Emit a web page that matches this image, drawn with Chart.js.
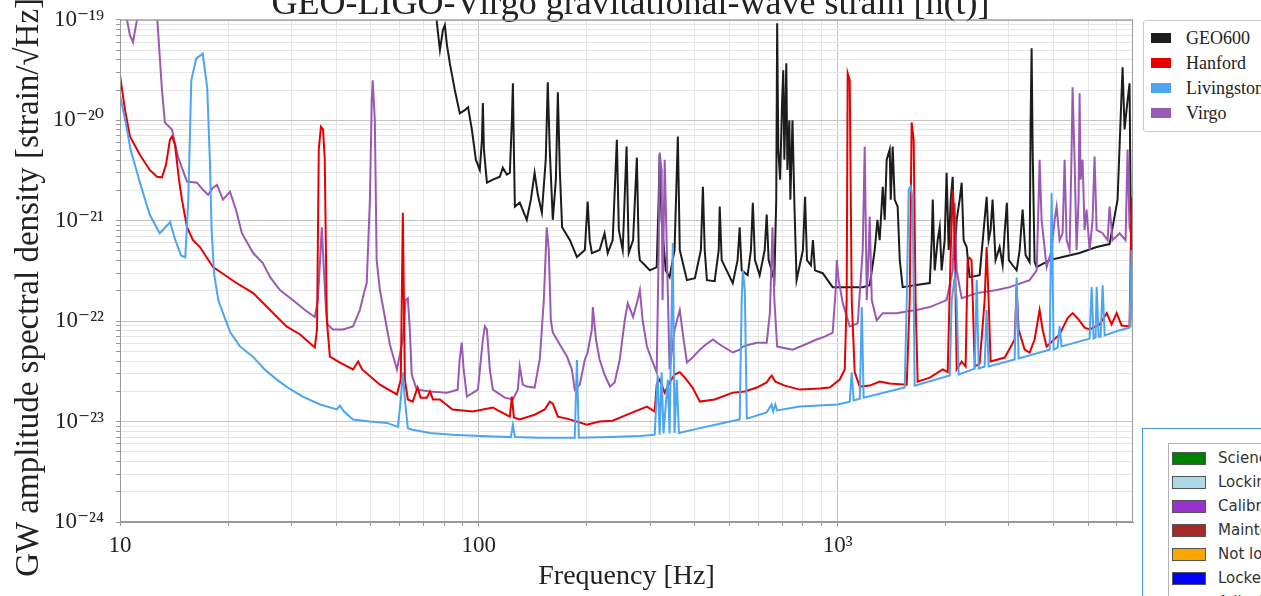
<!DOCTYPE html>
<html>
<head>
<meta charset="utf-8">
<script src="https://cdn.jsdelivr.net/npm/chart.js@4.4.1/dist/chart.umd.min.js"></script>
<style>
  html, body { margin: 0; padding: 0; background: #fff; overflow: hidden; }
  #wrap { position: relative; width: 1261px; height: 596px; overflow: hidden; }
  #plot { position: absolute; left: 0; top: -20px; }
  #ifoLegend { position: absolute; left: 1143px; top: 20px; width: 140px; height: 110px;
    border: 1px solid #c8c8c8; border-radius: 3px; background: #fff;
    font-family: 'Liberation Serif', 'DejaVu Serif', serif; font-size: 18px; color: #222; }
  #stateBox { position: absolute; left: 1142px; top: 428px; width: 200px; height: 300px;
    border: 1px solid #4a93dc; background: #fff; }
  #stateLegend { position: absolute; left: 25px; top: 14px; width: 200px; height: 300px;
    border: 1px solid #b4b4b4; background: #fff;
    font-family: 'DejaVu Sans', sans-serif; font-size: 15px; color: #333; }
  .row { position: absolute; white-space: nowrap; }
  .sw { position: absolute; }
</style>
</head>
<body>
<div id="wrap">
  <canvas id="plot" width="1261" height="616"></canvas>
  <div id="ifoLegend"></div>
  <div id="stateBox"><div id="stateLegend"></div></div>
</div>
<script>
// axis ticks
const freqMin = 10, freqMax = 6650;
const asdMin = 1e-24, asdMax = 1e-19;
const xDecades = [10, 100, 1000];
const xTickLabels = ['10', '100', '10³'];
const yDecades = [1e-24, 1e-23, 1e-22, 1e-21, 1e-20, 1e-19];
const yTickLabels = ['10⁻²⁴', '10⁻²³', '10⁻²²', '10⁻²¹', '10⁻²⁰', '10⁻¹⁹'];

// legend entries
const ifoNames = ['GEO600', 'Hanford', 'Livingston', 'Virgo'];
const ifoColors = ['#1c1c1c', '#e60000', '#4ca5f2', '#9b59b6'];
const stateNames = ['Science', 'Locking', 'Calibration', 'Maintenance', 'Not locked', 'Locked', 'Adjusting'];
const stateColors = ['#008000', '#add8e6', '#9932cc', '#a52a2a', '#ffa500', '#0000ff', '#e07ad6'];

// [frequency Hz, strain / sqrt(Hz)]
const geo600 = [[75.9,1.58e-19],[76.4,9.26e-20],[77.9,5.0e-20],[79.4,7.9e-20],[80.4,8.85e-20],[81.5,5.58e-20],[83.0,3.7e-20],[85.7,2.0e-20],[88.5,1.17e-20],[91.4,1.26e-20],[93.3,1.35e-20],[95.6,8.1e-21],[98.1,4.05e-21],[100.6,3.2e-21],[102,6.4e-21],[102.6,1.48e-20],[103.3,5.1e-21],[105.3,2.39e-21],[109.4,2.56e-21],[114.4,2.74e-21],[116.6,3.37e-21],[119.7,2.87e-21],[122,3.0e-21],[123.6,1.0e-20],[124.4,2.33e-20],[125.2,5.1e-21],[126,1.38e-21],[130,1.51e-21],[136,1.02e-21],[139.6,1.62e-21],[143,3.0e-21],[146,1.81e-21],[149.8,1.2e-21],[153.6,4.05e-21],[155.6,2.39e-20],[157.6,5.1e-21],[160.7,1.02e-21],[163.9,2.56e-21],[166,1.9e-20],[168.1,3.2e-21],[170.6,8.6e-22],[179.4,6.4e-22],[187.6,4.34e-22],[197.4,5.1e-22],[201,1.55e-21],[203.6,6.4e-22],[206.5,4.76e-22],[217,5.1e-22],[224,7.5e-22],[228.6,4.76e-22],[236,6.4e-22],[242.4,6.4e-21],[245.5,8.1e-22],[251.7,5.1e-22],[258,5.46e-21],[261.6,4.76e-22],[269,6.4e-22],[275.6,4.24e-21],[279,5.1e-22],[281,4.05e-22],[290.3,3.6e-22],[299.6,3.2e-22],[313,3.45e-22],[317,1.62e-21],[319,4.54e-21],[323,1.02e-21],[331.7,3.2e-22],[340,2.74e-22],[351,5.1e-22],[358.5,6.9e-21],[363,5.1e-22],[380,2.56e-22],[400,2.68e-22],[415.6,5.1e-22],[421,2.18e-21],[426,5.1e-22],[432,2.56e-22],[454,2.5e-22],[466,5.1e-22],[469,1.38e-21],[475,4.05e-22],[510,2.39e-22],[526,4.05e-22],[533,8.6e-22],[540,3.2e-22],[561,2.87e-22],[573,5.1e-22],[580,1.51e-21],[588,4.05e-22],[606,2.87e-22],[626,5.1e-22],[634,1.15e-21],[642,4.05e-22],[666,2.56e-22],[674,1.62e-21],[678,9.26e-20],[683,5.1e-21],[691,2.56e-21],[700,1.58e-20],[705,3.15e-20],[710,4.05e-21],[719,3.7e-20],[724,3.2e-21],[733,1.0e-20],[738,1.62e-21],[748,1.0e-20],[758,1.29e-21],[768,2.56e-22],[800,5.1e-22],[811,1.73e-21],[821,4.05e-22],[842,3.6e-22],[853,6.4e-22],[864,3.2e-22],[908,3.0e-22],[968,2.18e-22],[1013,2.18e-22],[1080,2.18e-22],[1174,2.18e-22],[1228,2.28e-22],[1268,5.1e-22],[1290,1.02e-21],[1309,6.4e-22],[1335,2.18e-21],[1352,1.02e-21],[1369,4.05e-21],[1396,5.1e-21],[1405,1.62e-21],[1423,5.46e-21],[1441,1.62e-21],[1469,1.38e-21],[1489,4.05e-22],[1517,2.18e-22],[1638,2.28e-22],[1805,2.39e-22],[1828,6.4e-22],[1840,1.62e-21],[1863,3.2e-22],[1899,6.4e-22],[1924,8.6e-22],[1948,3.2e-22],[1986,6.4e-22],[2011,3.0e-21],[2038,5.1e-22],[2065,1.62e-21],[2091,2.74e-21],[2118,4.05e-22],[2145,1.02e-21],[2187,1.62e-21],[2215,2.39e-21],[2243,6.4e-22],[2287,5.46e-22],[2331,2.74e-22],[2486,2.87e-22],[2551,8.1e-22],[2600,1.73e-21],[2633,6.4e-22],[2667,8.1e-22],[2701,1.62e-21],[2753,4.05e-22],[2826,5.46e-22],[2881,3.6e-22],[2922,8.1e-22],[2960,1.51e-21],[2998,4.05e-22],[3072,3.6e-22],[3152,3.2e-22],[3213,5.1e-22],[3275,1.29e-21],[3338,4.54e-22],[3426,3.87e-22],[3448,1.0e-20],[3470,5.2e-20],[3493,5.1e-21],[3537,3.87e-22],[3584,3.45e-22],[3895,4.05e-22],[4233,4.34e-22],[4720,4.76e-22],[5266,5.46e-22],[5722,5.85e-22],[6023,1.62e-21],[6140,1.0e-20],[6220,3.37e-20],[6300,8.1e-21],[6422,1.58e-20],[6505,2.33e-20],[6547,1.62e-21],[6631,6.0e-22]];

const hanford = [[10,2.8e-20],[10.33,1.26e-20],[10.66,6.9e-21],[11.37,4.5e-21],[12.1,3.2e-21],[12.68,2.74e-21],[13.09,2.7e-21],[13.43,3.6e-21],[13.78,6.4e-21],[13.96,6.9e-21],[14.23,5.7e-21],[14.6,2.56e-21],[14.88,1.62e-21],[15.37,8.6e-22],[15.97,6.4e-22],[16.7,5.46e-22],[18.16,3.45e-22],[19.0,3.1e-22],[20.9,2.45e-22],[23.5,1.9e-22],[26.2,1.29e-22],[29.1,8.85e-23],[31.7,7.4e-23],[34.9,5.46e-23],[35.4,8.26e-23],[35.8,5.1e-21],[36.3,8.6e-21],[36.8,8.1e-21],[37.2,4.05e-21],[37.7,1.02e-22],[38.45,4.44e-23],[41.0,3.87e-23],[44.6,3.3e-23],[46.1,3.96e-23],[47.3,3.3e-23],[53.0,2.33e-23],[59.1,1.86e-23],[60.6,2.62e-23],[61.4,1.2e-21],[62.2,2.62e-23],[63.4,1.66e-23],[65.4,1.58e-23],[67.5,2.18e-23],[68.8,1.73e-23],[71.6,1.73e-23],[73.1,1.99e-23],[74.5,1.66e-23],[77.9,1.66e-23],[84.4,1.32e-23],[96.2,1.26e-23],[109.4,1.38e-23],[113,1.29e-23],[122,1.12e-23],[123.6,1.77e-23],[125.2,1.1e-23],[130,1.05e-23],[143,1.17e-23],[152.6,1.32e-23],[157.6,1.58e-23],[160.7,1.51e-23],[166,1.12e-23],[176,1.07e-23],[200,9.3e-24],[217,1.0e-23],[236,1.02e-23],[263,1.2e-23],[294,1.41e-23],[309,1.26e-23],[313,2.33e-23],[319,2.62e-23],[329.5,1.94e-23],[340,2.45e-23],[351,2.94e-23],[363,3.1e-23],[375,2.74e-23],[394,2.18e-23],[413,1.58e-23],[454,1.66e-23],[510,1.94e-23],[551,1.99e-23],[595,2.18e-23],[634,2.45e-23],[647,2.74e-23],[655,2.87e-23],[670,2.5e-23],[712,2.28e-23],[784,2.08e-23],[890,2.13e-23],[950,2.18e-23],[1013,2.62e-23],[1046,3.3e-23],[1059,1.62e-22],[1066,2.94e-20],[1080,2.5e-20],[1094,1.62e-22],[1115,3.1e-23],[1152,2.23e-23],[1228,2.28e-23],[1309,2.5e-23],[1396,2.39e-23],[1557,2.33e-23],[1587,1.62e-22],[1607,9.5e-21],[1628,6.4e-21],[1648,1.62e-22],[1670,2.5e-23],[1805,2.74e-23],[1961,3.3e-23],[2025,3.1e-23],[2065,5.1e-22],[2091,2.04e-21],[2118,8.1e-22],[2145,3.3e-23],[2215,3.96e-23],[2272,3.53e-23],[2301,4.05e-22],[2331,4.25e-22],[2360,4.05e-22],[2409,3.53e-23],[2486,3.78e-23],[2567,1.62e-22],[2600,5.46e-22],[2633,1.62e-22],[2667,3.96e-23],[2922,4.34e-23],[3112,6.56e-23],[3152,2.18e-22],[3192,8.26e-23],[3318,5.2e-23],[3426,4.87e-23],[3537,6.56e-23],[3652,1.29e-22],[3723,8.26e-23],[3820,5.58e-23],[4152,7.36e-23],[4371,1.07e-22],[4513,1.2e-22],[4660,1.07e-22],[4874,8.6e-23],[5034,8.26e-23],[5367,9.26e-23],[5620,1.2e-22],[5797,9.26e-23],[5988,1.2e-22],[6180,9.05e-23],[6505,8.85e-23],[6589,1.73e-21],[6631,1.02e-22]];

const livingston = [[10,1.8e-20],[10.4,9.0e-21],[10.7,5.1e-21],[11.4,2.3e-21],[12.1,1.15e-21],[12.9,7.5e-22],[13.3,8.4e-22],[13.8,9.7e-22],[14.2,6.7e-22],[14.8,4.5e-22],[15.2,4.3e-22],[15.5,1.6e-21],[15.8,2.5e-20],[16.3,4.1e-20],[17.0,4.6e-20],[17.5,2.1e-20],[17.8,4.0e-21],[18.0,8.0e-22],[18.3,2.9e-22],[18.8,1.6e-22],[19.6,1.07e-22],[20.3,7.7e-23],[21.6,5.6e-23],[23.5,4.4e-23],[25.3,3.3e-23],[27.4,2.6e-23],[29.8,2.1e-23],[32.3,1.77e-23],[36.1,1.48e-23],[40.2,1.32e-23],[41.0,1.44e-23],[42.1,1.26e-23],[44.6,1.05e-23],[49.7,1.0e-23],[55.4,9.7e-24],[59.5,8.85e-24],[60.6,1.66e-23],[61.4,3.1e-23],[62.2,1.66e-23],[63.4,8.6e-24],[65.4,8.3e-24],[73.1,7.7e-24],[84.4,7.4e-24],[100.6,7.2e-24],[122.8,7.0e-24],[124.4,9.3e-24],[126,7.0e-24],[147.8,6.9e-24],[185,6.9e-24],[187.6,4.1e-23],[190,6.9e-24],[232,7.0e-24],[281,7.2e-24],[309,7.4e-24],[315,2.9e-23],[319,7.4e-24],[323,3.1e-23],[327,7.6e-24],[336,2.6e-23],[340,7.6e-24],[347,6.0e-22],[351,7.7e-24],[356,2.6e-23],[361,7.7e-24],[413,8.6e-24],[469,9.5e-24],[533,1.05e-23],[540,1.6e-22],[544,3.2e-22],[551,2.0e-22],[558,1.07e-23],[634,1.23e-23],[654,1.48e-23],[661,1.26e-23],[670,1.48e-23],[678,1.29e-23],[784,1.41e-23],[1000,1.48e-23],[1080,1.58e-23],[1094,3.1e-23],[1108,1.62e-23],[1152,1.69e-23],[1167,1.38e-22],[1181,1.73e-23],[1537,2.18e-23],[1557,1.6e-22],[1577,2.04e-21],[1597,2.2e-21],[1618,1.62e-21],[1638,2.28e-23],[2052,2.87e-23],[2078,1.6e-22],[2118,2.74e-22],[2145,1.6e-22],[2173,2.94e-23],[2409,3.37e-23],[2440,2.56e-22],[2471,3.37e-23],[2567,3.53e-23],[2600,1.29e-22],[2633,3.53e-23],[3112,4.15e-23],[3152,2.74e-22],[3192,4.25e-23],[3895,5.2e-23],[3945,1.9e-21],[3996,5.2e-23],[4099,5.46e-23],[4152,8.85e-23],[4206,5.6e-23],[5034,6.7e-23],[5099,2.18e-22],[5165,6.7e-23],[5232,6.9e-23],[5266,2.18e-22],[5334,7.0e-23],[5403,7.0e-23],[5473,2.28e-22],[5544,7.2e-23],[6101,8.1e-23],[6505,8.6e-23],[6589,5.1e-22],[6631,8.6e-23]];

const virgo = [[10,1.41e-19],[10.33,1.26e-19],[10.66,7.0e-20],[10.87,6.0e-20],[11.08,8.85e-20],[11.22,1.12e-19],[11.74,1.58e-19],[12.1,1.58e-19],[12.68,1.12e-19],[13.09,2.0e-20],[13.34,9.5e-21],[13.96,8.1e-21],[14.5,4.34e-21],[15.37,2.45e-21],[16.4,2.39e-21],[17.0,2.04e-21],[17.6,1.81e-21],[18.16,2.13e-21],[18.63,2.28e-21],[19.36,1.62e-21],[20.25,1.94e-21],[21.04,1.29e-21],[21.86,7.5e-22],[23.5,4.76e-22],[25.0,3.78e-22],[26.2,2.74e-22],[27.9,2.04e-22],[30.3,1.62e-22],[32.75,1.29e-22],[34.9,1.1e-22],[35.6,1.62e-22],[36.1,4.05e-22],[36.5,8.6e-22],[37.0,3.2e-22],[37.5,1.29e-22],[37.9,9.26e-23],[39.2,8.26e-23],[41.8,8.26e-23],[44.6,8.85e-23],[46.6,1.29e-22],[48.1,2.04e-22],[48.7,2.39e-22],[49.7,1.62e-21],[50.3,1.58e-20],[50.6,2.5e-20],[51.3,1.0e-20],[51.9,4.05e-22],[53.0,2.04e-22],[56.5,5.85e-23],[59.1,3.3e-23],[61.4,6.56e-23],[62.5,1.62e-22],[63.4,1.69e-22],[64.2,8.26e-23],[65.0,2.94e-23],[67.1,2.08e-23],[73.1,1.99e-23],[81.5,1.94e-23],[87.3,2.08e-23],[88.4,4.15e-23],[89.6,6.1e-23],[90.7,3.3e-23],[92.6,1.77e-23],[99.4,2.08e-23],[102.6,6.56e-23],[103.9,8.85e-23],[105.3,8.26e-23],[107.3,3.3e-23],[109.4,2.08e-23],[118.1,1.73e-23],[124.4,1.66e-23],[128.4,2.08e-23],[130,3.53e-23],[132.6,2.33e-23],[136,2.23e-23],[143,2.18e-23],[147.8,4.15e-23],[151.7,1.62e-22],[154.6,8.6e-22],[156.6,5.1e-22],[158.7,1.02e-22],[160.7,7.7e-23],[168.1,5.85e-23],[176,4.44e-23],[181.6,3.3e-23],[185,2.08e-23],[191.1,2.33e-23],[197.4,4.15e-23],[201,4.87e-23],[206.5,8.26e-23],[207.8,1.38e-22],[212,6.56e-23],[217,4.15e-23],[224,2.94e-23],[232,2.23e-23],[239,2.45e-23],[247,4.15e-23],[255,1.02e-22],[260,1.51e-22],[269,1.1e-22],[277,1.62e-22],[281,2.04e-22],[286,1.02e-22],[294,5.58e-23],[303,4.15e-23],[313,3.1e-23],[317,5.1e-22],[319,4.76e-21],[323,3.2e-21],[325,1.62e-22],[329.5,4.05e-21],[334,5.1e-22],[340,3.3e-23],[351,8.26e-23],[363,1.29e-22],[372,6.56e-23],[380,3.87e-23],[394,4.34e-23],[413,5.2e-23],[429,5.85e-23],[449,6.56e-23],[469,5.85e-23],[510,4.87e-23],[533,5.2e-23],[544,5.58e-23],[569,5.85e-23],[595,6.1e-23],[634,6.1e-23],[647,1.2e-22],[654,4.05e-22],[658,8.6e-22],[666,1.62e-22],[678,5.58e-23],[749,5.2e-23],[812,5.85e-23],[873,6.56e-23],[920,7.0e-23],[968,7.7e-23],[987,2.04e-22],[994,4.05e-22],[1006,2.56e-22],[1033,1.51e-22],[1080,8.85e-23],[1137,9.5e-23],[1174,5.1e-22],[1189,5.46e-21],[1205,1.62e-22],[1220,5.1e-22],[1228,1.1e-21],[1244,1.62e-22],[1284,1.02e-22],[1335,1.2e-22],[1460,1.2e-22],[1587,1.26e-22],[1660,1.29e-22],[1805,1.38e-22],[2011,1.62e-22],[2091,3.2e-22],[2118,1.51e-21],[2145,3.2e-22],[2215,1.69e-22],[2440,1.9e-22],[2774,2.04e-22],[3013,2.18e-22],[3426,2.56e-22],[3584,3.2e-22],[3630,1.62e-21],[3652,4.05e-21],[3699,1.02e-21],[3820,3.45e-22],[3945,5.1e-22],[4022,1.02e-21],[4074,1.38e-21],[4152,6.4e-22],[4233,7.5e-22],[4288,4.05e-21],[4343,6.4e-22],[4428,5.1e-22],[4485,5.1e-21],[4513,2.13e-20],[4571,4.05e-21],[4630,5.1e-22],[4690,1.62e-21],[4720,1.86e-20],[4751,2.56e-21],[4812,4.05e-21],[4874,8.1e-22],[4937,1.29e-21],[5034,5.1e-22],[5131,1.02e-21],[5197,4.34e-21],[5266,8.1e-22],[5471,7.5e-22],[5649,6.4e-22],[5722,1.38e-21],[5833,6.4e-22],[6101,7.5e-22],[6341,6.4e-22],[6422,5.1e-21],[6505,8.6e-22],[6631,6.4e-22]];

const serif = "'Liberation Serif', 'DejaVu Serif', serif";

// ticks at 1..9 x each decade (matplotlib-style minor ticks)
function logTicks(decades, lo, hi) {
  const out = [];
  decades.forEach(d => {
    for (let m = 1; m <= 9; m++) {
      const v = m * d;
      if (v >= lo * 0.999 && v <= hi * 1.001) out.push({ value: v });
    }
  });
  return out;
}
function decadeIndex(v, decades) {
  return decades.findIndex(d => Math.abs(v / d - 1) < 1e-6);
}
const xTicks = logTicks(xDecades, freqMin, freqMax);
const yTicks = logTicks(yDecades, asdMin, asdMax);

function gridColor(decades) {
  return ctx => (ctx.tick && decadeIndex(ctx.tick.value, decades) >= 0) ? '#c4c4c4' : '#e6e6e6';
}

const framePlugin = {
  id: 'frame',
  afterDatasetsDraw(chart) {
    const a = chart.chartArea, c = chart.ctx;
    c.save();
    c.strokeStyle = '#9a9a9a';
    c.lineWidth = 1;
    c.strokeRect(a.left + 0.5, a.top + 0.5, a.right - a.left - 1, a.bottom - a.top - 1);
    c.restore();
  }
};

const toXY = arr => arr.map(p => ({ x: p[0], y: p[1] }));
const series = [geo600, hanford, livingston, virgo];
const drawOrder = [4, 2, 1, 3];   // livingston on top, geo600 at the back

new Chart(document.getElementById('plot'), {
  type: 'line',
  data: {
    datasets: series.map((s, i) => ({
      label: ifoNames[i],
      data: toXY(s),
      xAxisID: 'x',
      yAxisID: 'y',
      borderColor: ifoColors[i],
      backgroundColor: ifoColors[i],
      borderWidth: 2,
      pointRadius: 0,
      tension: 0,
      fill: false,
      clip: 0,
      order: drawOrder[i]
    }))
  },
  options: {
    responsive: false,
    animation: false,
    devicePixelRatio: 1,
    plugins: {
      legend: { display: false },
      tooltip: { enabled: false },
      title: {
        display: true,
        text: 'GEO-LIGO-Virgo gravitational-wave strain [h(t)]',
        color: '#222',
        font: { family: serif, size: 36, weight: 'normal', lineHeight: 0.8 },
        padding: { top: 10, bottom: 1 }
      }
    },
    scales: {
      x: {
        type: 'logarithmic',
        min: freqMin,
        max: freqMax,
        afterBuildTicks: s => { s.ticks = xTicks.map(t => ({ value: t.value })); },
        afterFit: s => { s.height = 74; },
        ticks: {
          autoSkip: false,
          maxRotation: 0,
          padding: 6,
          color: '#222',
          font: { family: serif, size: 23 },
          callback: v => { const k = decadeIndex(v, xDecades); return k >= 0 ? xTickLabels[k] : ''; }
        },
        grid: { color: gridColor(xDecades), tickLength: 4, tickColor: '#999' },
        border: { color: '#9a9a9a' },
        title: {
          display: true,
          text: 'Frequency [Hz]',
          color: '#222',
          font: { family: serif, size: 28 },
          padding: { top: 0, bottom: 3 }
        }
      },
      y: {
        type: 'logarithmic',
        position: 'left',
        min: asdMin,
        max: asdMax,
        afterBuildTicks: s => { s.ticks = yTicks.map(t => ({ value: t.value })); },
        afterFit: s => { s.width = 120; },
        ticks: {
          autoSkip: false,
          padding: 12,
          color: '#222',
          font: { family: serif, size: 23 },
          callback: v => { const k = decadeIndex(v, yDecades); return k >= 0 ? yTickLabels[k] : ''; }
        },
        grid: { color: gridColor(yDecades), tickLength: 4, tickColor: '#999' },
        border: { color: '#9a9a9a' },
        title: {
          display: true,
          // two en spaces at the end push the label down like the original
          text: 'GW amplitude spectral density [strain/√Hz]\u2002\u2002',
          color: '#222',
          font: { family: serif, size: 33 },
          padding: { top: 10, bottom: 0 }
        }
      },
      // empty axis that only reserves the legend column on the right
      legendSpace: {
        type: 'linear',
        position: 'right',
        display: true,
        grid: { display: false },
        ticks: { display: false },
        border: { display: false },
        afterFit: s => { s.width = 128; }
      }
    }
  },
  plugins: [framePlugin]
});

// legends
const ifoLegend = document.getElementById('ifoLegend');
ifoNames.forEach((name, i) => {
  const cy = 17 + i * 25;
  ifoLegend.insertAdjacentHTML('beforeend',
    `<div class="sw" style="left:7px;top:${cy - 5}px;width:20px;height:10px;background:${ifoColors[i]}"></div>` +
    `<div class="row" style="left:42px;top:${cy - 11}px;line-height:22px">${name}</div>`);
});
const stateLegend = document.getElementById('stateLegend');
stateNames.forEach((name, i) => {
  const cy = 14 + i * 24;
  stateLegend.insertAdjacentHTML('beforeend',
    `<div class="sw" style="left:3px;top:${cy - 6}px;width:32px;height:11px;background:${stateColors[i]};border:1px solid #555"></div>` +
    `<div class="row" style="left:49px;top:${cy - 9}px;line-height:18px">${name}</div>`);
});
</script>
</body>
</html>
